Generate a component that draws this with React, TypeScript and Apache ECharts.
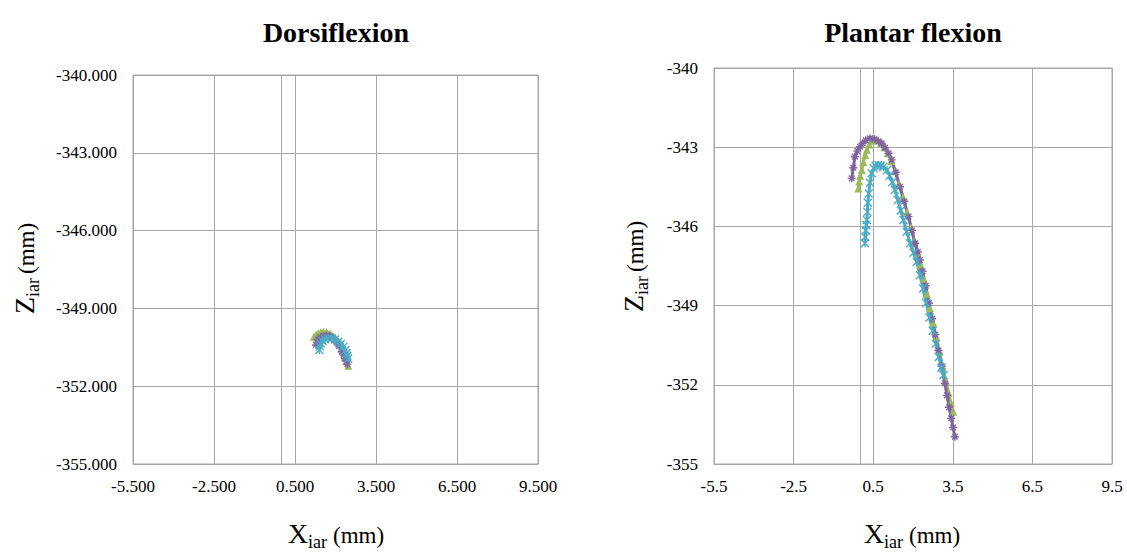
import React, { useEffect, useRef } from "react";
import * as echarts from "echarts";

// ---- axis ticks ----
const xTicks = [-5.5, -2.5, 0.5, 3.5, 6.5, 9.5];
const zTicks = [-355, -352, -349, -346, -343, -340];

// ---- Dorsiflexion ----
const dGreenX = [1.2, 1.28, 1.36, 1.45, 1.55, 1.67, 1.8, 1.92, 2.04, 2.14, 2.23, 2.3, 2.35, 2.41, 2.47];
const dGreenZ = [-350.09, -350.01, -349.96, -349.92, -349.9, -349.91, -349.96, -350.06, -350.22, -350.37, -350.54, -350.7, -350.86, -351.03, -351.21];
const dPurpleX = [1.28, 1.31, 1.36, 1.45, 1.55, 1.67, 1.8, 1.92, 2.04, 2.14, 2.23, 2.3, 2.35, 2.4, 2.44];
const dPurpleZ = [-350.41, -350.3, -350.19, -350.11, -350.07, -350.05, -350.07, -350.15, -350.29, -350.46, -350.67, -350.8, -350.93, -351.04, -351.15];
const dCyanX = [1.4, 1.42, 1.45, 1.52, 1.61, 1.73, 1.86, 1.98, 2.1, 2.2, 2.29, 2.36, 2.41, 2.44, 2.47];
const dCyanZ = [-350.6, -350.47, -350.35, -350.26, -350.19, -350.15, -350.15, -350.2, -350.29, -350.37, -350.48, -350.6, -350.73, -350.83, -350.93];

// ---- Plantar flexion ----
const pPurpleX = [-0.31, -0.25, -0.19, -0.1, 0.0, 0.1, 0.22, 0.38, 0.55, 0.7, 0.82, 0.95, 1.08, 1.2, 1.35, 1.51, 1.67, 1.83, 1.96, 2.08, 2.18, 2.26, 2.36, 2.48, 2.6, 2.72, 2.84, 2.96, 3.08, 3.2, 3.28, 3.36, 3.44, 3.51, 3.58];
const pPurpleZ = [-344.18, -343.78, -343.36, -343.15, -342.98, -342.85, -342.74, -342.66, -342.7, -342.78, -342.85, -343.02, -343.23, -343.48, -343.95, -344.5, -345.05, -345.63, -346.15, -346.64, -346.97, -347.27, -347.7, -348.25, -348.9, -349.5, -350.1, -350.7, -351.3, -351.95, -352.4, -352.85, -353.27, -353.62, -353.97];
const pGreenX = [-0.06, -0.03, 0.01, 0.07, 0.13, 0.2, 0.26, 0.35, 0.45, 0.56, 0.68, 0.8, 0.92, 1.05, 1.18, 1.32, 1.47, 1.62, 1.77, 1.92, 2.05, 2.17, 2.28, 2.4, 2.52, 2.64, 2.76, 2.88, 3.0, 3.12, 3.24, 3.34, 3.43, 3.52];
const pGreenZ = [-344.56, -344.3, -344.08, -343.86, -343.56, -343.3, -343.1, -342.9, -342.76, -342.7, -342.74, -342.84, -343.0, -343.23, -343.52, -343.9, -344.38, -344.9, -345.45, -346.02, -346.55, -347.0, -347.45, -347.98, -348.55, -349.1, -349.65, -350.2, -350.75, -351.3, -351.85, -352.3, -352.68, -353.02];
const pCyanX = [0.19, 0.2, 0.22, 0.24, 0.26, 0.28, 0.3, 0.33, 0.38, 0.44, 0.52, 0.6, 0.69, 0.78, 0.88, 1.02, 1.12, 1.22, 1.32, 1.43, 1.54, 1.64, 1.76, 1.89, 2.02, 2.14, 2.26, 2.38, 2.5, 2.62, 2.74, 2.86, 2.97, 3.07, 3.15];
const pCyanZ = [-346.64, -346.4, -346.15, -345.95, -345.76, -345.45, -345.1, -344.75, -344.35, -343.99, -343.8, -343.7, -343.67, -343.69, -343.75, -343.86, -344.08, -344.33, -344.62, -345.0, -345.4, -345.76, -346.2, -346.64, -347.0, -347.35, -347.85, -348.35, -348.9, -349.45, -349.95, -350.45, -350.95, -351.35, -351.63];

const PURPLE = "#8064A2";
const GREEN = "#9BBB59";
const CYAN = "#4BACC6";
const GRID = "#a6a6a6";
const FONT = "Liberation Serif";

const STAR = "path://M5,0L5,10M0,5L10,5M1.5,1.5L8.5,8.5M1.5,8.5L8.5,1.5";
const XSTAR = "path://M0,0L10,10M0,10L10,0M5,0L5,10";

const zip = (xs: number[], zs: number[]) => xs.map((x, i) => [x, zs[i]]);

function axisPair(idx: number, xDec: number, yDec: number) {
  const x = {
    type: "value",
    gridIndex: idx,
    min: -5.5,
    max: 9.5,
    axisLine: { show: true, onZero: false, lineStyle: { color: GRID, width: 1 } },
    axisTick: { show: false, customValues: xTicks },
    axisLabel: {
      customValues: xTicks,
      formatter: (v: number) => v.toFixed(xDec),
      color: "#000",
      fontFamily: FONT,
      fontSize: 17,
      margin: 14,
    },
    splitLine: { show: true, lineStyle: { color: GRID, width: 1 } },
  };
  const y = {
    type: "value",
    gridIndex: idx,
    min: -355,
    max: -340,
    axisLine: { show: true, onZero: false, lineStyle: { color: GRID, width: 1 } },
    axisTick: { show: false, customValues: zTicks },
    axisLabel: {
      customValues: zTicks,
      formatter: (v: number) => v.toFixed(yDec),
      color: "#000",
      fontFamily: FONT,
      fontSize: 17,
      margin: 16,
    },
    splitLine: { show: true, lineStyle: { color: GRID, width: 1 } },
  };
  return { x, y };
}

function mkSeries(idx: number, data: number[][], color: string, symbol: string, mark: boolean) {
  const s: any = {
    type: "line",
    xAxisIndex: idx,
    yAxisIndex: idx,
    data,
    showSymbol: true,
    symbol,
    symbolSize: 8,
    lineStyle: { color, width: 3 },
    itemStyle: { color, borderColor: color, borderWidth: symbol === "triangle" ? 0 : 1.4 },
    z: 3,
  };
  if (mark) {
    s.markLine = {
      silent: true,
      symbol: "none",
      label: { show: false },
      lineStyle: { color: GRID, type: "solid", width: 1 },
      data: [{ xAxis: 0 }],
      z: 1,
    };
  }
  return s;
}

function txt(text: string, x: number, baseline: number, fs: number) {
  return {
    type: "text",
    x,
    y: baseline - 0.34 * fs,
    style: { text, fontFamily: FONT, fontSize: fs, fill: "#000", verticalAlign: "middle", align: "left" },
  };
}

function xTitle(cx: number) {
  return {
    type: "group",
    x: cx - 48,
    y: 543,
    children: [txt("X", 0, 0, 28), txt("iar", 20, 5, 18), txt("(mm)", 45, 0, 23)],
  };
}

function yTitle(bx: number, by: number) {
  return {
    type: "group",
    x: bx,
    y: by,
    rotation: Math.PI / 2,
    children: [txt("Z", 0, 0, 28), txt("iar", 17, 5, 18), txt("(mm)", 40, 0, 23)],
  };
}

export default function App() {
  const ref = useRef<HTMLDivElement>(null);
  useEffect(() => {
    if (!ref.current) return;
    const chart = echarts.init(ref.current, undefined, { renderer: "svg" });
    const a0 = axisPair(0, 3, 3);
    const a1 = axisPair(1, 1, 0);
    chart.setOption({
      animation: false,
      backgroundColor: "#fff",
      grid: [
        { left: 133, top: 75, width: 405, height: 389, show: true, borderColor: GRID, borderWidth: 1, containLabel: false },
        { left: 714, top: 68, width: 398, height: 396, show: true, borderColor: GRID, borderWidth: 1, containLabel: false },
      ],
      xAxis: [a0.x, a1.x],
      yAxis: [a0.y, a1.y],
      series: [
        mkSeries(0, zip(dGreenX, dGreenZ), GREEN, "triangle", true),
        mkSeries(0, zip(dPurpleX, dPurpleZ), PURPLE, STAR, false),
        mkSeries(0, zip(dCyanX, dCyanZ), CYAN, XSTAR, false),
        mkSeries(1, zip(pGreenX, pGreenZ), GREEN, "triangle", true),
        mkSeries(1, zip(pPurpleX, pPurpleZ), PURPLE, STAR, false),
        mkSeries(1, zip(pCyanX, pCyanZ), CYAN, XSTAR, false),
      ],
      graphic: [
        { type: "text", x: 336, y: 32, style: { text: "Dorsiflexion", fontFamily: FONT, fontSize: 28, fontWeight: "bold", fill: "#000", align: "center", verticalAlign: "middle" } },
        { type: "text", x: 913, y: 32, style: { text: "Plantar flexion", fontFamily: FONT, fontSize: 28, fontWeight: "bold", fill: "#000", align: "center", verticalAlign: "middle" } },
        xTitle(336),
        xTitle(912),
        yTitle(34, 314),
        yTitle(643, 312),
      ],
    });
    return () => chart.dispose();
  }, []);
  return <div ref={ref} style={{ position: "fixed", left: 0, top: 0, width: 1127, height: 552 }} />;
}
